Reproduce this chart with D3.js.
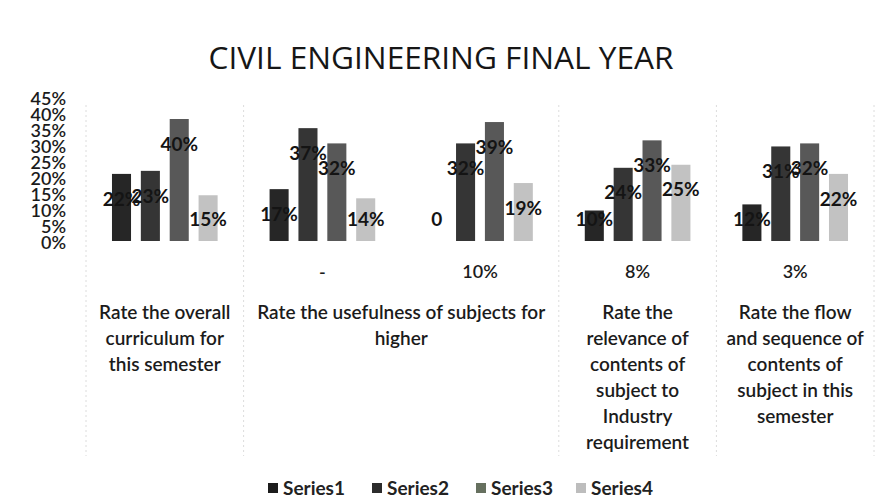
<!DOCTYPE html>
<html>
<head>
<meta charset="utf-8">
<script src="https://cdn.jsdelivr.net/npm/d3@7"></script>
<style>
  html, body { margin: 0; padding: 0; background: #ffffff; }
  svg { display: block; }
</style>
</head>
<body>
<svg id="chart" width="884" height="504"></svg>
<script>
// ---------------- data ----------------
const title = "CIVIL ENGINEERING FINAL YEAR";
const seriesNames = ["Series1", "Series2", "Series3", "Series4"];
// inner category labels (first row under the axis)
const subCategories = ["", "-", "10%", "8%", "3%"];
// outer category labels and how many inner categories each spans
const questions = [
  "Rate the overall\ncurriculum for\nthis semester",
  "Rate the usefulness of subjects for\nhigher",
  "Rate the\nrelevance of\ncontents of\nsubject to\nIndustry\nrequirement",
  "Rate the flow\nand sequence of\ncontents of\nsubject in this\nsemester"
];
const questionSpan = [1, 2, 1, 1];
const series1 = [22, 17, 0, 10, 12];
const series2 = [23, 37, 32, 24, 31];
const series3 = [40, 32, 39, 33, 32];
const series4 = [15, 14, 19, 25, 22];
const yTicks = [0, 5, 10, 15, 20, 25, 30, 35, 40, 45];

// ---------------- layout / style ----------------
const seriesValues = [series1, series2, series3, series4];
const colors = ["#262626", "#353535", "#585858", "#c2c2c2"];
const legendColors = ["#1c1c1c", "#2c2c2c", "#66705f", "#bdbdbd"];
const font = "Lato, 'Liberation Sans', sans-serif";
const textColor = "#1b1b1b";

const svg = d3.select("#chart");
const idx = subCategories.map((d, i) => i);

const x0 = d3.scaleBand().domain(idx).range([86, 874]).paddingInner(0).paddingOuter(0);
const x1 = d3.scaleBand().domain(seriesNames).range([0, x0.bandwidth()])
  .paddingInner(0.34).paddingOuter(0.9);
const y = d3.scaleLinear().domain([0, 45]).range([241, 241 - 45 * 3.05]);
// the tick labels of the original are squeezed together
const yLab = d3.scaleLinear().domain([0, 45]).range([243, 99]);

// title
const t = svg.append("text")
  .attr("x", 441).attr("y", 69)
  .attr("text-anchor", "middle")
  .attr("font-family", "'Open Sans', 'Liberation Sans', sans-serif")
  .attr("font-weight", 400)
  .attr("font-size", 30)
  .attr("fill", "#161616")
  .text(title);
{
  const w = t.node().getComputedTextLength();
  t.attr("font-size", 30 * 465 / w);
}

// separators of the outer category groups
let cum = 0;
const boundaries = [0];
questionSpan.forEach(s => { cum += s; boundaries.push(cum); });
svg.append("g").selectAll("line").data(boundaries).join("line")
  .attr("x1", d => d < idx.length ? x0(d) : x0(idx.length - 1) + x0.bandwidth())
  .attr("x2", d => d < idx.length ? x0(d) : x0(idx.length - 1) + x0.bandwidth())
  .attr("y1", 105).attr("y2", 456)
  .attr("stroke", "#dcdcdc").attr("stroke-width", 1).attr("stroke-dasharray", "2,3");

// y axis (labels only)
const yAxis = svg.append("g").attr("transform", "translate(66,0)")
  .call(d3.axisLeft(yLab).tickValues(yTicks).tickFormat(d => d + "%").tickSize(0).tickPadding(0));
yAxis.select(".domain").remove();
yAxis.selectAll("text")
  .attr("font-family", font).attr("font-size", 18).attr("font-weight", 600)
  .attr("fill", textColor);

// bars
const groups = svg.append("g").selectAll("g").data(idx).join("g")
  .attr("transform", d => `translate(${x0(d)},0)`);
groups.selectAll("rect")
  .data(i => seriesNames.map((s, k) => ({ s, k, v: seriesValues[k][i] })))
  .join("rect")
  .attr("x", d => x1(d.s))
  .attr("width", x1.bandwidth())
  .attr("y", d => y(d.v))
  .attr("height", d => y(0) - y(d.v))
  .attr("fill", d => colors[d.k]);

// data labels
groups.selectAll("text.val")
  .data(i => seriesNames.map((s, k) => ({ s, k, v: seriesValues[k][i] })))
  .join("text")
  .attr("class", "val")
  .attr("x", d => x1(d.s) + x1.bandwidth() / 2)
  .attr("y", d => d.v === 0 ? y(7) : Math.min(y(d.v) + 25, y(7)))
  .attr("dy", "0.35em")
  .attr("text-anchor", "middle")
  .attr("font-family", font).attr("font-size", 19).attr("font-weight", 700)
  .attr("fill", "#141414")
  .text(d => d.v === 0 ? "0" : d.v + "%");

// inner category labels
svg.append("g").selectAll("text").data(idx).join("text")
  .attr("x", d => x0(d) + x0.bandwidth() / 2)
  .attr("y", 272).attr("dy", "0.35em")
  .attr("text-anchor", "middle")
  .attr("font-family", font).attr("font-size", 18).attr("font-weight", 600)
  .attr("fill", textColor)
  .text(d => subCategories[d]);

// outer category labels
let start = 0;
questions.forEach((q, qi) => {
  const a = x0(start);
  const b = x0(start + questionSpan[qi] - 1) + x0.bandwidth();
  start += questionSpan[qi];
  const txt = svg.append("text")
    .attr("x", (a + b) / 2).attr("y", 312)
    .attr("text-anchor", "middle")
    .attr("font-family", font).attr("font-size", 19).attr("font-weight", 600)
    .attr("fill", textColor);
  q.split("\n").forEach((line, li) => {
    txt.append("tspan").attr("x", (a + b) / 2).attr("y", 312 + li * 26)
      .attr("dy", "0.35em").text(line);
  });
});

// legend
const legendX = [268, 372, 476, 576];
const lg = svg.append("g").selectAll("g").data(seriesNames).join("g")
  .attr("transform", (d, i) => `translate(${legendX[i]},488)`);
lg.append("rect").attr("x", 0).attr("y", -5).attr("width", 10).attr("height", 10)
  .attr("fill", (d, i) => legendColors[i]);
lg.append("text").attr("x", 15).attr("y", 0).attr("dy", "0.35em")
  .attr("font-family", font).attr("font-size", 19).attr("font-weight", 700)
  .attr("fill", "#222")
  .text(d => d);
</script>
</body>
</html>
